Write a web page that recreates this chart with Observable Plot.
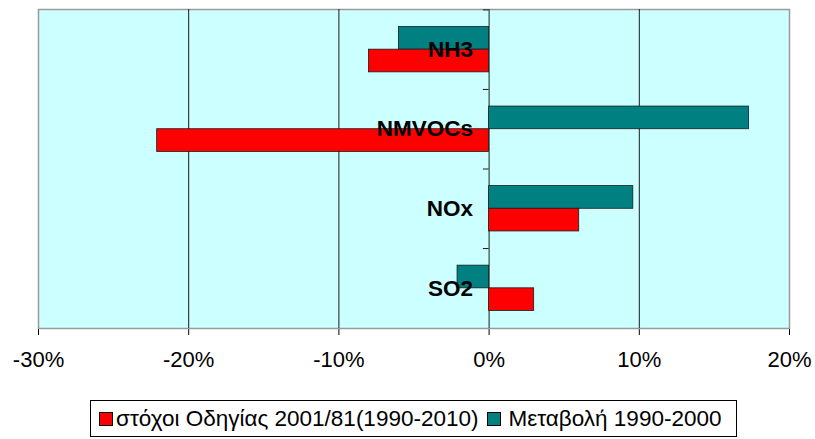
<!DOCTYPE html>
<html><head><meta charset="utf-8">
<script src="https://cdn.jsdelivr.net/npm/d3@7"></script>
<script src="https://cdn.jsdelivr.net/npm/@observablehq/plot@0.6"></script>
<style>
body{margin:0;background:#fff;font-family:"Liberation Sans",Arial,sans-serif;}
#wrap{position:relative;width:815px;height:439px;}
#legend{position:absolute;left:90px;top:400px;width:637px;height:35px;padding-left:8px;border:1px solid #000;display:flex;align-items:center;justify-content:flex-start;font-size:22.5px;white-space:nowrap;color:#000;}
.item{display:flex;align-items:center;}
.sw{display:inline-block;width:12px;height:12px;border:1px solid #000;margin-right:3px;}
.gap{width:9px;}
</style></head><body><div id="wrap"><div id="chart"></div><div id="legend"></div></div>
<script>
const categories = ["NH3", "NMVOCs", "NOx", "SO2"];
const seriesNames = ["στόχοι Οδηγίας 2001/81(1990-2010)", "Μεταβολή 1990-2000"];
const seriesColors = ["#FF0000", "#008080"];
const targets2010 = [-8.0, -22.1, 6.0, 3.0];
const change2000 = [-6.0, 17.3, 9.6, -2.1];
const xTicks = [-30, -20, -10, 0, 10, 20];
const gridValues = [-20, -10, 0, 10];

const W = 815, H = 390, mt = 9, mb = 62, ml = 38, mr = 26;
const pi = 0.43, po = 0.22;
const step = (H - mt - mb) / (categories.length - pi + 2 * po);
const half = step * (1 - pi) / 2;

const rowsChange = categories.map((c, i) => ({category: c, series: seriesNames[1], value: change2000[i]}));
const rowsTarget = categories.map((c, i) => ({category: c, series: seriesNames[0], value: targets2010[i]}));

const chart = Plot.plot({
  width: W, height: H,
  marginTop: mt, marginBottom: mb, marginLeft: ml, marginRight: mr,
  style: {fontFamily: '"Liberation Sans", Arial, sans-serif', fontSize: "22px", color: "#000", background: "#fff", overflow: "visible"},
  x: {domain: [-30, 20], ticks: xTicks, tickFormat: d => d + "%", tickSize: 7, tickPadding: 16, label: null, line: true},
  y: {type: "band", domain: categories, paddingInner: pi, paddingOuter: po, round: false, axis: null},
  color: {domain: seriesNames, range: seriesColors},
  marks: [
    Plot.frame({fill: "#CCFFFF", stroke: "#9a9a9a", strokeWidth: 1.5}),
    Plot.ruleX(gridValues, {stroke: "#1a1a1a", strokeWidth: 1}),
    Plot.ruleY(categories, {y: d => d, x1: -0.38, x2: 0, dy: -step / 2, stroke: "#1a1a1a"}),
    Plot.barX(rowsChange, {y: "category", x1: () => 0, x2: "value", fill: "series", stroke: "#1a1a1a", strokeWidth: 0.8, insetBottom: half}),
    Plot.barX(rowsTarget, {y: "category", x1: () => 0, x2: "value", fill: "series", stroke: "#1a1a1a", strokeWidth: 0.8, insetTop: half}),
    Plot.text(categories, {y: d => d, x: () => 0, text: d => d, textAnchor: "end", dx: -16, fontWeight: "bold", fontSize: 22.5, fill: "#000"})
  ]
});
document.getElementById("chart").appendChild(chart);

const legend = document.getElementById("legend");
seriesNames.forEach((name, i) => {
  if (i > 0) { const g = document.createElement("span"); g.className = "gap"; legend.appendChild(g); }
  const item = document.createElement("span"); item.className = "item";
  const sw = document.createElement("span"); sw.className = "sw"; sw.style.background = seriesColors[i];
  if (i > 0) sw.style.marginRight = "7px";
  const tx = document.createElement("span"); tx.textContent = name;
  item.appendChild(sw); item.appendChild(tx); legend.appendChild(item);
});
</script></body></html>
